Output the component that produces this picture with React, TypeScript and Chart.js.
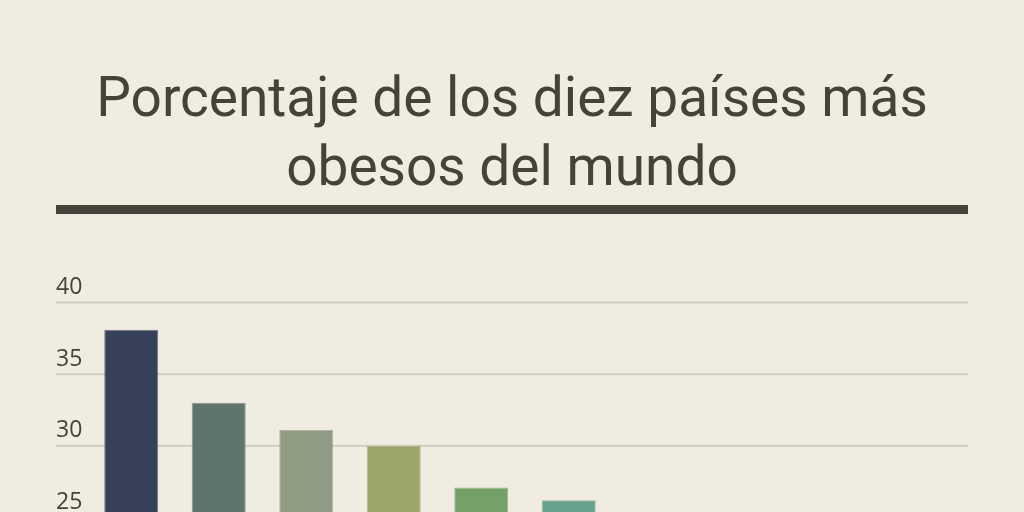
import React, { useEffect, useRef } from "react";
import { Chart, registerables } from "chart.js";

Chart.register(...registerables);

const TITLE_LINES = ["Porcentaje de los diez países más", "obesos del mundo"];
const COUNTRIES = [
  "Estados Unidos",
  "México",
  "Nueva Zelanda",
  "Hungría",
  "Australia",
  "Reino Unido",
  "Canadá",
  "Chile",
  "Finlandia",
  "Alemania",
];
const OBESITY = [38.1, 33.0, 31.1, 30.0, 27.1, 26.2, 25.1, 24.8, 23.6, 22.9];
const Y_TICKS = [0, 5, 10, 15, 20, 25, 30, 35, 40];

const BAR_COLORS = [
  "#364057",
  "#5f736f",
  "#8f9c83",
  "#9ca569",
  "#74a266",
  "#66a18b",
  "#5a9a9f",
  "#52889a",
  "#4a7590",
  "#3f6182",
];

const BG = "#f0ece1";
const INK = "#45423a";
const GRID = "#d1cdc0";

const decorPlugin = {
  id: "decor",
  beforeDatasetsDraw(chart: any) {
    const { ctx, scales } = chart;
    const y = scales.y;
    ctx.save();
    // thick rule under the title
    ctx.fillStyle = INK;
    ctx.fillRect(56, 205, 912, 9);
    // grid lines + labels above them
    ctx.font = '23px "Open Sans"';
    ctx.textAlign = "left";
    ctx.textBaseline = "alphabetic";
    Y_TICKS.forEach((v) => {
      const py = y.getPixelForValue(v);
      ctx.strokeStyle = GRID;
      ctx.lineWidth = 2;
      ctx.beginPath();
      ctx.moveTo(56, py);
      ctx.lineTo(968, py);
      ctx.stroke();
      ctx.fillStyle = INK;
      ctx.fillText(String(v), 56, py - 8.5);
    });
    ctx.restore();
  },
};

export default function App() {
  const ref = useRef<HTMLCanvasElement | null>(null);

  useEffect(() => {
    if (!ref.current) return;
    const chart = new Chart(ref.current, {
      type: "bar",
      data: {
        labels: COUNTRIES,
        datasets: [
          {
            data: OBESITY,
            backgroundColor: BAR_COLORS,
            borderColor: BAR_COLORS.map((c) => c + "b0"),
            borderWidth: 1,
            barPercentage: 0.617,
            categoryPercentage: 1,
          },
        ],
      },
      options: {
        animation: false,
        responsive: true,
        maintainAspectRatio: false,
        layout: { padding: { top: 0, left: 0, right: 0, bottom: 24 } },
        plugins: {
          legend: { display: false },
          tooltip: { enabled: false },
          title: {
            display: true,
            text: TITLE_LINES,
            color: INK,
            font: { family: "Roboto", size: 55, weight: "normal", lineHeight: 1.245 },
            padding: { top: 68.25, bottom: 97.25 },
          },
        },
        scales: {
          x: {
            grid: { display: false },
            border: { display: false },
            ticks: {
              color: INK,
              font: { family: "Open Sans", size: 15 },
              maxRotation: 0,
              autoSkip: false,
            },
            afterFit(s: any) {
              s.height = 60;
            },
          },
          y: {
            min: 0,
            max: 40,
            position: "left",
            grid: { display: false },
            border: { display: false },
            ticks: { display: false, stepSize: 5 },
            afterFit(s: any) {
              s.width = 87.5;
            },
          },
          yr: {
            type: "linear",
            position: "right",
            grid: { display: false },
            border: { display: false },
            ticks: { display: false },
            afterFit(s: any) {
              s.width = 61.5;
            },
          },
        },
      } as any,
      plugins: [decorPlugin],
    });
    return () => chart.destroy();
  }, []);

  return (
    <>
      <style>{`html,body{margin:0;padding:0;overflow:hidden;background:${BG};}`}</style>
      <div style={{ width: 1024, height: 960, position: "relative", background: BG }}>
        <canvas ref={ref} />
      </div>
    </>
  );
}
